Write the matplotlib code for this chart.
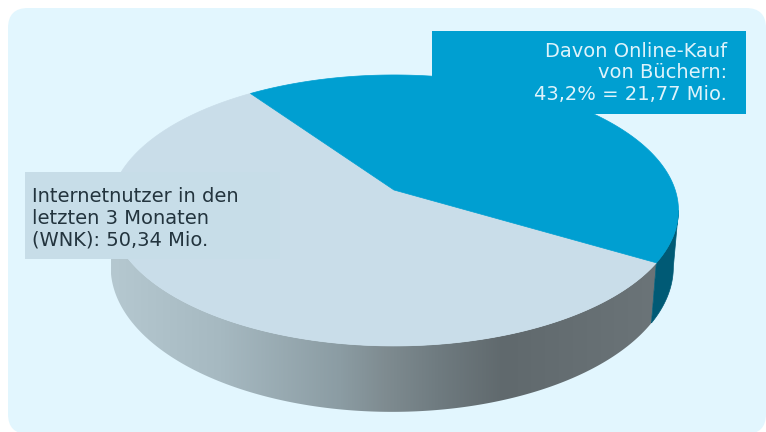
import numpy as np
import matplotlib
matplotlib.use("Agg")
import matplotlib.pyplot as plt
from matplotlib.colors import LinearSegmentedColormap
from matplotlib.patches import FancyBboxPatch, Polygon, Rectangle

categories = ["Davon Online-Kauf von Büchern", "Internetnutzer"]
shares = [43.2, 56.8]
start_angle = 125.0
label_online = "Davon Online-Kauf\nvon Büchern:\n43,2% = 21,77 Mio."
label_users = "Internetnutzer in den\nletzten 3 Monaten\n(WNK): 50,34 Mio."

BLUE = "#009fd1"
LIGHT = "#c9dde9"
PANEL = "#e2f6fe"

# perspective of the tilted disc
cx, cy = 394.0, 190.0
rx, ry = 281.2, 132.4
k = 0.151


def top_edge(theta):
    t = np.radians(theta)
    w = 1 + k * np.sin(t)
    return cx + rx * np.cos(t) / w, cy - ry * np.sin(t) / w


def bottom_edge(theta):
    t = np.radians(theta)
    w = 1 + k * np.sin(t)
    return 392 + 0.989 * rx * np.cos(t) / w, 245 - 1.07 * ry * np.sin(t) / w


def wedge(a0, a1):
    th = np.linspace(a0, a1, 200)
    x, y = top_edge(th)
    return np.column_stack([np.r_[cx, x], np.r_[cy, y]])


def wall(a0, a1):
    th = np.linspace(a0, a1, 200)
    x0, y0 = top_edge(th)
    x1, y1 = bottom_edge(th[::-1])
    return np.column_stack([np.r_[x0, x1], np.r_[y0, y1]])


fig = plt.figure(figsize=(7.66, 4.32), dpi=100)
ax = fig.add_axes([0, 0, 1, 1])
ax.axis("off")

ax.add_patch(FancyBboxPatch((28, 28), 718, 386, boxstyle="round,pad=20,rounding_size=20",
                            fc=PANEL, ec=PANEL, lw=0, zorder=0))

sweep = shares[0] / sum(shares) * 360
seam = start_angle - sweep
left_limit = -171.3
right_limit = -8.7

# grey side wall, shaded from left to right
grey = LinearSegmentedColormap.from_list(
    "side", [(0, "#b5c8d0"), (0.2, "#a6b9c1"), (0.42, "#8b9ca3"), (0.5, "#7f8c91"),
             (0.6, "#6f7b80"), (0.72, "#60696d"), (1, "#6b7478")])
clip = Polygon(wall(seam, left_limit), closed=True, fc="none", ec="none", transform=ax.transData)
ax.add_patch(clip)
im = ax.imshow(np.linspace(0, 1, 256)[None, :], cmap=grey, extent=(111, 657, 432, 0),
               aspect="auto", zorder=1)
im.set_clip_path(clip)

ax.add_patch(Polygon(wall(right_limit, seam), closed=True, fc="#005a75", ec="#005a75", lw=0.5, zorder=1))

ax.add_patch(Polygon(wedge(seam, seam - (360 - sweep)), closed=True, fc=LIGHT, ec=LIGHT, lw=0.5, zorder=2))
ax.add_patch(Polygon(wedge(start_angle, seam), closed=True, fc=BLUE, ec=BLUE, lw=0.5, zorder=3))

# label boxes
ax.add_patch(Rectangle((432, 31), 314, 83, fc=BLUE, ec="none", zorder=4))
ax.add_patch(Rectangle((25, 172), 255, 87, fc="#c7dde8", ec="none", zorder=4))

ax.text(727, 73, label_online, ha="right", va="center", ma="right", color="#def3fb",
        fontsize=14, linespacing=1.17, zorder=5)
ax.text(32, 218, label_users, ha="left", va="center", ma="left", color="#23343e",
        fontsize=14, linespacing=1.17, zorder=5)

ax.set_xlim(0, 766)
ax.set_ylim(432, 0)

fig.savefig("out.png", dpi=100)
